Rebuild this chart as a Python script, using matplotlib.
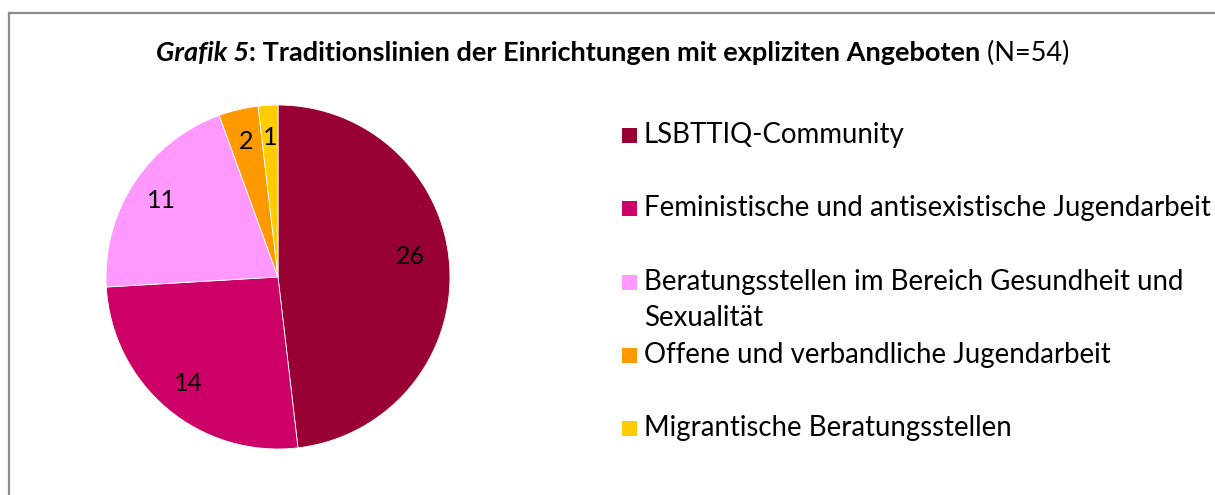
import matplotlib
matplotlib.use("Agg")
import matplotlib.pyplot as plt
from matplotlib.patches import Rectangle
from matplotlib.lines import Line2D

plt.rcParams["font.family"] = ["Lato", "DejaVu Sans"]

labels = [
    "LSBTTIQ-Community",
    "Feministische und antisexistische Jugendarbeit",
    "Beratungsstellen im Bereich Gesundheit und\nSexualität",
    "Offene und verbandliche Jugendarbeit",
    "Migrantische Beratungsstellen",
]
values = [26, 14, 11, 2, 1]
colors = ["#990033", "#CC0066", "#FF99FF", "#FF9900", "#FFCC00"]

W, H = 1215, 495
fig = plt.figure(figsize=(W / 100, H / 100), dpi=100)

# frame around the chart (open to the right/bottom like the screenshot)
fig.add_artist(Line2D([8.5 / W, 1.0], [1 - 12.5 / H, 1 - 12.5 / H], color="#8c8c8c", lw=1.6))
fig.add_artist(Line2D([8.5 / W, 8.5 / W], [0, 1 - 12.5 / H], color="#8c8c8c", lw=1.6))

# pie
cx, cy, r = 278, 277, 172
ax = fig.add_axes([(cx - r) / W, (H - cy - r) / H, 2 * r / W, 2 * r / H])
total = sum(values)
wedges, texts, autotexts = ax.pie(
    values, colors=colors, startangle=90, counterclock=False,
    autopct=lambda p: f"{round(p * total / 100):d}", pctdistance=0.81,
    wedgeprops=dict(edgecolor="white", linewidth=0.6),
    textprops=dict(fontsize=18, color="black"),
)
ax.set_xlim(-1, 1)
ax.set_ylim(-1, 1)
# the big slice label sits a little higher in the original
autotexts[0].set_position((0.77, 0.12))

# title in three styles, centred
fs_t = 19.5
parts = [("Grafik 5", "bold", "italic"),
         (": Traditionslinien der Einrichtungen mit expliziten Angeboten", "bold", "normal"),
         (" (N=54)", "normal", "normal")]
ty = 1 - 53 / H
objs = [fig.text(0, ty, s, fontsize=fs_t, fontweight=w, fontstyle=st, va="center", ha="left")
        for s, w, st in parts]
fig.canvas.draw()
rend = fig.canvas.get_renderer()
widths = [o.get_window_extent(rend).width for o in objs]
x = 613 - sum(widths) / 2
for o, wd in zip(objs, widths):
    o.set_x(x / W)
    x += wd

# legend
row_y = [135, 208, 282, 355, 428]
sq = 15
fs_l = 19.9
for lab, col, yy in zip(labels, colors, row_y):
    fig.add_artist(Rectangle((622 / W, (H - yy - sq / 2) / H), sq / W, sq / H,
                             facecolor=col, edgecolor="none"))
    if "\n" in lab:
        fig.text(644 / W, (H - 300) / H, lab, fontsize=fs_l, va="center", ha="left",
                 linespacing=1.5)
    else:
        fig.text(644 / W, (H - yy) / H, lab, fontsize=fs_l, va="center", ha="left")

fig.savefig("out.png", dpi=100, facecolor="white")
